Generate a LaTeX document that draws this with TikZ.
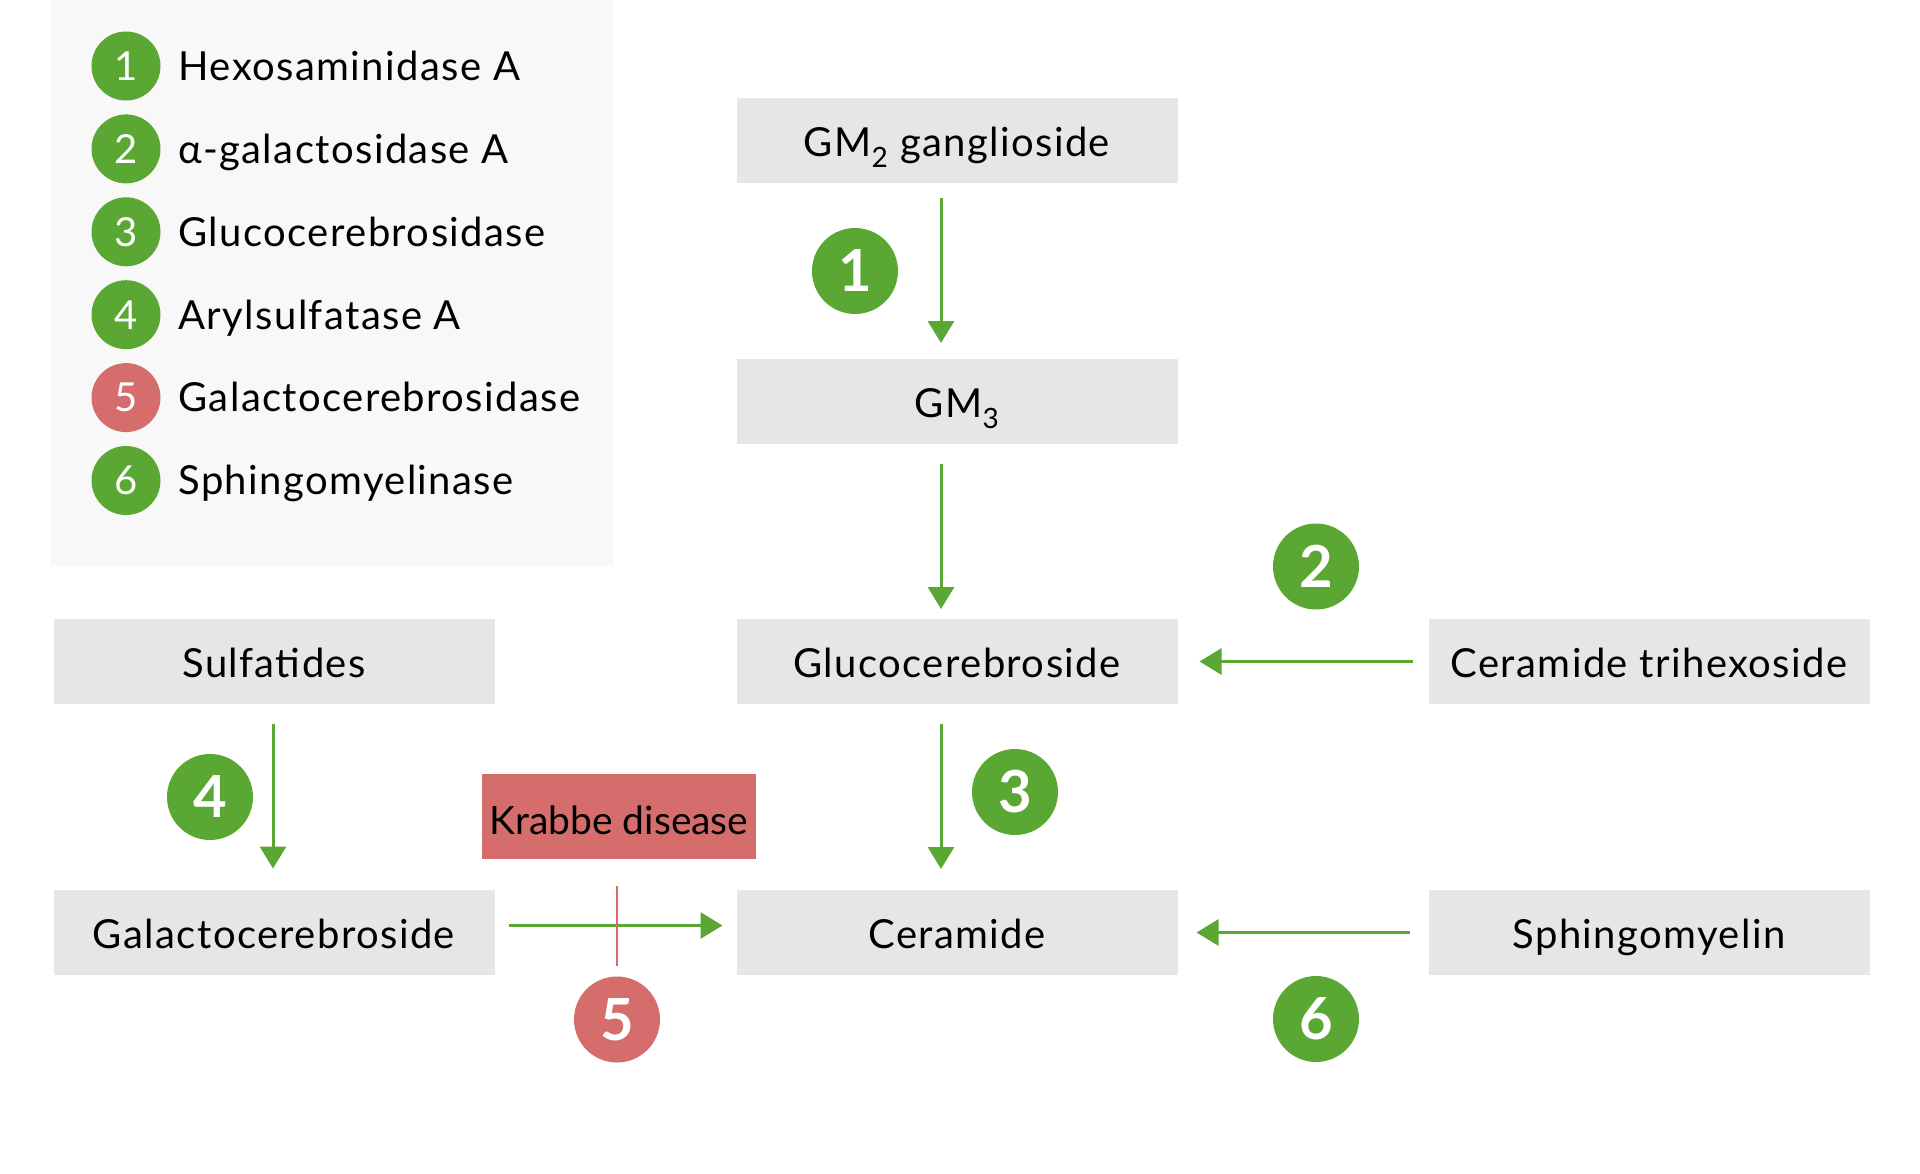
\documentclass[tikz,border=0pt]{standalone}
\usepackage{fontspec}
\setmainfont{Lato}
\newfontfamily\tracked{Lato}[LetterSpace=3.5]
\usetikzlibrary{arrows.meta,positioning}
\definecolor{enzgreen}{HTML}{5AA833}
\definecolor{enzred}{HTML}{D46D6B}
\definecolor{boxgray}{HTML}{E6E6E6}
\definecolor{legendbg}{HTML}{F8F8F8}
\tikzstyle{compound}=[
  fill=boxgray,
  font={\tracked\fontsize{40}{48}\selectfont},
  inner sep=0pt,
  minimum height=85pt,
  minimum width=441pt,
  outer sep=0pt,
  rectangle,
  text centered,
  text depth=0pt,
  text height=31pt,
]
\tikzstyle{disease}=[
  compound,
  fill=enzred,
  font={\fontsize{39}{47}\selectfont},
  minimum width=274pt,
  text height=36pt,
]
\tikzstyle{badge}=[
  circle,
  fill=enzgreen,
  font={\fontsize{58}{70}\selectfont\bfseries},
  inner sep=0pt,
  minimum size=86pt,
  text=white,
  text depth=0pt,
  text height=41.6pt,
]
\tikzstyle{keybadge}=[
  badge,
  font={\fontsize{40}{48}\selectfont},
  minimum size=69pt,
  text height=28.7pt,
]
\tikzstyle{keytext}=[
  font={\tracked\fontsize{40}{48}\selectfont},
  inner sep=0pt,
  text depth=0pt,
  text height=28.7pt,
]
\tikzstyle{arrow}=[
  color=enzgreen,
  draw=enzgreen,
  line width=3pt,
]
\tikzstyle{block}=[
  draw=enzred,
  line width=2.5pt,
]
\tikzset{
  >={Triangle[length=22pt,width=26pt]},
}
\begin{document}
\begin{tikzpicture}[x=1pt,y=-1pt]
      \useasboundingbox (0,0) rectangle (1920,1173);
      % key
      \fill [legendbg] (51,0) rectangle (613,566);
      \node (key1) [keybadge] at (126,66) {1};
      \node (key2) [keybadge, below=13.5pt of key1] {2};
      \node (key3) [keybadge, below=13.5pt of key2] {3};
      \node (key4) [keybadge, below=13.5pt of key3] {4};
      \node (key5) [keybadge, fill=enzred, below=13.5pt of key4] {5};
      \node (key6) [keybadge, below=13.5pt of key5] {6};
      \node (hexa) [keytext, right=17.5pt of key1] {Hexosaminidase A};
      \node (agal) [keytext, right=17.5pt of key2] {α-galactosidase A};
      \node (gba) [keytext, right=17.5pt of key3] {Glucocerebrosidase};
      \node (arsa) [keytext, right=17.5pt of key4] {Arylsulfatase A};
      \node (galc) [keytext, right=17.5pt of key5] {Galactocerebrosidase};
      \node (smpd) [keytext, right=17.5pt of key6] {Sphingomyelinase};
      % pathway
      \node (gmtwo) [compound] at (957,140.5) {GM\textsubscript{2} ganglioside};
      \node (gmthree) [compound, below=176pt of gmtwo] {GM\textsubscript{3}};
      \node (glucocer) [compound, below=175pt of gmthree] {Glucocerebroside};
      \node (ceramide) [compound, below=186pt of glucocer] {Ceramide};
      \node (cth) [compound, right=251pt of glucocer] {Ceramide trihexoside};
      \node (sphingo) [compound, below=186pt of cth] {Sphingomyelin};
      \node (sulfatides) [compound, left=242pt of glucocer] {Sulfatides};
      \node (galactocer) [compound, below=186pt of sulfatides] {Galactocerebroside};
      \node (krabbe) [disease] at (619,816.5) {Krabbe disease};
      \node (one) [badge] at (855,271) {1};
      \node (two) [badge] at (1316,566.5) {2};
      \node (three) [badge] at (1015,792) {3};
      \node (four) [badge] at (210,797) {4};
      \node (five) [badge, fill=enzred] at (617,1019.5) {5};
      \node (six) [badge] at (1316,1019) {6};
      \coordinate (blocktop) at (617,886);
      \draw [->, arrow, shorten <=15pt, shorten >=16pt] ([xshift=-16pt]gmtwo.south) -- ([xshift=-16pt]gmthree.north);
      \draw [->, arrow, shorten <=20pt, shorten >=10pt] ([xshift=-16pt]gmthree.south) -- ([xshift=-16pt]glucocer.north);
      \draw [->, arrow, shorten <=20pt, shorten >=21pt] ([xshift=-16pt]glucocer.south) -- ([xshift=-16pt]ceramide.north);
      \draw [->, arrow, shorten <=20pt, shorten >=21.5pt] ([xshift=-1pt]sulfatides.south) -- ([xshift=-1pt]galactocer.north);
      \draw [->, arrow, shorten <=16pt, shorten >=22pt] (cth.west) -- (glucocer.east);
      \draw [->, arrow, shorten <=18.5pt, shorten >=19pt] (sphingo.west) -- (ceramide.east);
      \draw [->, arrow, shorten <=14.5pt, shorten >=14pt] ([yshift=7pt]galactocer.east) -- ([yshift=7pt]ceramide.west);
      \draw [block] (blocktop) -- ([yshift=10pt]five.north);
    \end{tikzpicture}
\end{document}
